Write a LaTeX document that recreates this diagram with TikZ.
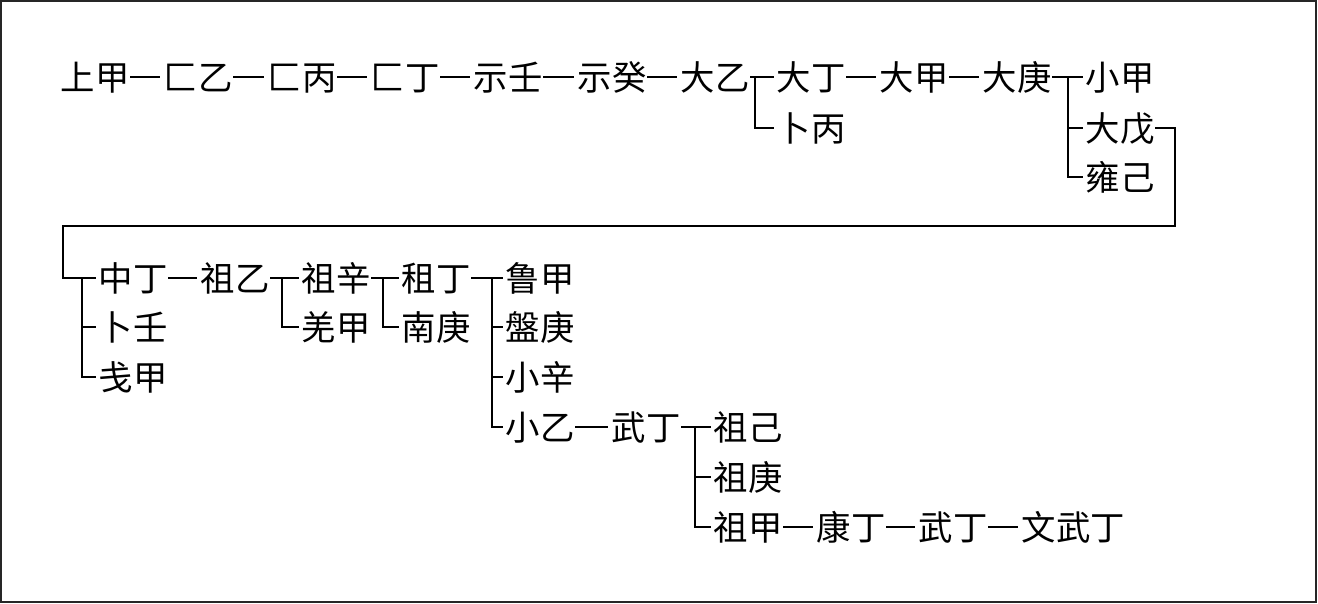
\documentclass[tikz,border=0pt]{standalone}
\usepackage{fontspec}
\newfontfamily\cjk{Noto Sans CJK SC}
\begin{document}
\begin{tikzpicture}[x=1pt,y=-1pt,line width=1.5pt,
  nm/.style={anchor=west,inner sep=0pt,text height=30.3pt,text depth=4.1pt,
    font=\cjk\fontsize{34.4}{36}\selectfont},
  dline/.style={shorten >=3pt,shorten <=0pt},
  tline/.style={shorten >=2pt}]
\useasboundingbox (0,0) rectangle (1318,604);
\draw[line width=1.3pt,draw=black!85] (1,1) rectangle (1316,602);
% row 1
\node[nm] (a1) at (60,77) {上甲};
\node[nm] (a2) at (163,77) {匚乙};
\node[nm] (a3) at (267,77) {匚丙};
\node[nm] (a4) at (370,77) {匚丁};
\node[nm] (a5) at (473,77) {示壬};
\node[nm] (a6) at (577,77) {示癸};
\node[nm] (a7) at (680,77) {大乙};
\node[nm] (b1) at (776,77) {大丁};
\node[nm] (b2) at (776,128) {卜丙};
\node[nm] (b3) at (879,77) {大甲};
\node[nm] (b4) at (982,77) {大庚};
\node[nm] (c1) at (1085,77) {小甲};
\node[nm] (c2) at (1085,128) {大戊};
\node[nm] (c3) at (1085,177) {雍己};
% block 2
\node[nm] (d1) at (98,278) {中丁};
\node[nm] (d2) at (98,327) {卜壬};
\node[nm] (d3) at (98,377) {戋甲};
\node[nm] (e1) at (200,278) {祖乙};
\node[nm] (f1) at (301,278) {祖辛};
\node[nm] (f2) at (301,327) {羌甲};
\node[nm] (g1) at (401,278) {租丁};
\node[nm] (g2) at (401,327) {南庚};
\node[nm] (h1) at (505,278) {鲁甲};
\node[nm] (h2) at (505,327) {盤庚};
\node[nm] (h3) at (505,377) {小辛};
\node[nm] (h4) at (505,427) {小乙};
\node[nm] (i1) at (611,427) {武丁};
\node[nm] (j1) at (713,427) {祖己};
\node[nm] (j2) at (713,477) {祖庚};
\node[nm] (j3) at (713,527) {祖甲};
\node[nm] (k1) at (816,527) {康丁};
\node[nm] (k2) at (918,527) {武丁};
\node[nm] (k3) at (1021,527) {文武丁};
% dashes
\draw[dline] (a1) -- (a2);
\draw[dline] (a2) -- (a3);
\draw[dline] (a3) -- (a4);
\draw[dline] (a4) -- (a5);
\draw[dline] (a5) -- (a6);
\draw[dline] (a6) -- (a7);
\draw[dline] (b1) -- (b3);
\draw[dline] (b3) -- (b4);
\draw[dline] (d1) -- (e1);
\draw[dline] (h4) -- (i1);
\draw[dline] (j3) -- (k1);
\draw[dline] (k1) -- (k2);
\draw[dline] (k2) -- (k3);
% tees
\coordinate (t1) at (755,77);
\draw[tline] (a7.east) -- (b1.west);
\draw[tline] (t1) |- (b2.west);
\coordinate (t2) at (1068,77);
\draw[tline] (b4.east) -- (c1.west);
\draw[tline] (t2) |- (c2.west);
\draw[tline] (t2) |- (c3.west);
% long link 大戊 -> 中丁
\coordinate (r1) at (1175,128);
\coordinate (r2) at (63,226);
\draw[tline] (c2.east) -- (r1) |- (r2) |- (d1.west);
\coordinate (t3) at (82,278);
\draw[tline] (t3) |- (d2.west);
\draw[tline] (t3) |- (d3.west);
\coordinate (t4) at (282,278);
\draw[tline] (e1.east) -- (f1.west);
\draw[tline] (t4) |- (f2.west);
\coordinate (t5) at (383,278);
\draw[tline] (f1.east) -- (g1.west);
\draw[tline] (t5) |- (g2.west);
\coordinate (t6) at (492,278);
\draw[tline] (g1.east) -- (h1.west);
\draw[tline] (t6) |- (h2.west);
\draw[tline] (t6) |- (h3.west);
\draw[tline] (t6) |- (h4.west);
\coordinate (t7) at (695,427);
\draw[tline] (i1.east) -- (j1.west);
\draw[tline] (t7) |- (j2.west);
\draw[tline] (t7) |- (j3.west);
\end{tikzpicture}
\end{document}
